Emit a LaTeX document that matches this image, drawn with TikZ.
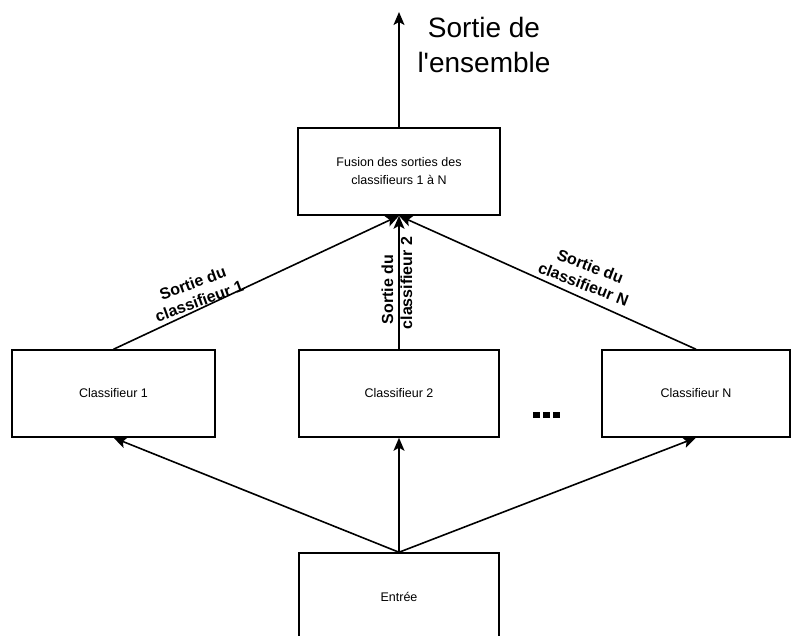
\documentclass[tikz,border=0pt]{standalone}
\usepackage{fontspec}
\setmainfont{Liberation Sans}
\newfontfamily\plainsans{Liberation Sans}
\usetikzlibrary{arrows.meta}
\begin{document}
\begin{tikzpicture}[x=1pt,y=-1pt,
  box/.style={draw, line width=1.5pt, inner sep=0pt, font=\fontsize{12.5}{18}\selectfont, align=center},
  conn/.style={line width=1.6pt, -{Stealth[length=13pt,width=11pt,inset=3pt]}},
  lab/.style={font=\bfseries\fontsize{16}{19}\selectfont, inner sep=0pt}]
\useasboundingbox (0,0) rectangle (792,635);
\clip (0,0) rectangle (792,635);
% boxes
\node[box, minimum width=202pt, minimum height=87pt] (fus) at (399,171.5) {Fusion des sorties des\\classifieurs 1 à N};
\node[box, minimum width=203pt, minimum height=87pt] (c1) at (113.5,393.5) {Classifieur 1};
\node[box, minimum width=200pt, minimum height=87pt] (c2) at (399,393.5) {Classifieur 2};
\node[box, minimum width=188pt, minimum height=87pt] (cN) at (696,393.5) {Classifieur N};
\node[box, minimum width=200pt, minimum height=88pt] (ent) at (399,597) {Entrée};
% output
\coordinate (top) at (399,12);
\draw[conn] (fus.north) -- (top);
\node[font=\plainsans\fontsize{28}{35}\selectfont, align=center, inner sep=0pt] (title) at (484,45) {Sortie de\\l'ensemble};
% classifier outputs
\draw[conn] (c1.north) -- (fus.south);
\draw[conn] (c2.north) -- (fus.south);
\draw[conn] (cN.north) -- (fus.south);
% inputs
\draw[conn] (ent.north) -- (c1.south);
\draw[conn] (ent.north) -- (c2.south);
\draw[conn] (ent.north) -- (cN.south);
% labels
\node[lab, align=center, rotate=20] (l1) at (196,292) {Sortie du\\classifieur 1};
\node[lab, align=left, rotate=90] (l2) at (397,283) {\hspace*{5pt}Sortie du\\classifieur 2};
\node[lab, align=center, rotate=-21] (lN) at (587,275) {Sortie du\\classifieur N};
% dots
\foreach \x in {533,543,553}
  \fill (\x,412) rectangle ++(7,6);
\end{tikzpicture}
\end{document}
